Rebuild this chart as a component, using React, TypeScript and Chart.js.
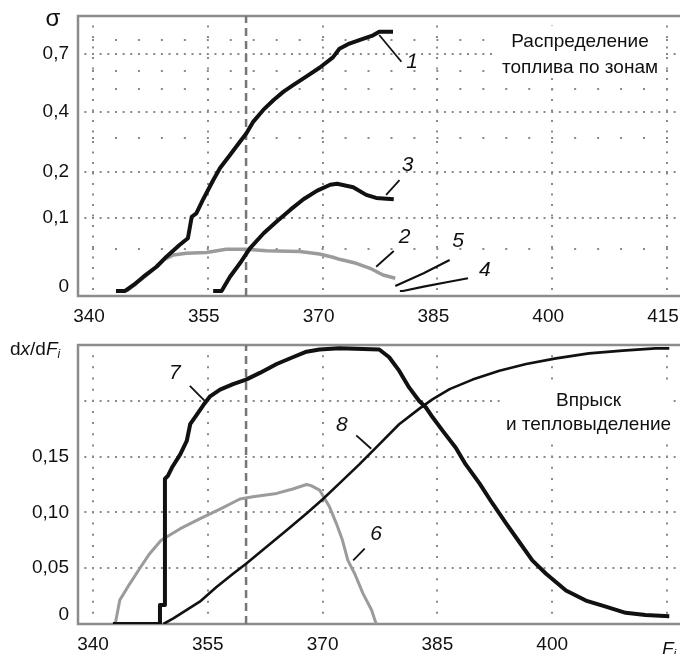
import React, { useEffect, useRef } from 'react';
import { Chart, registerables } from 'chart.js';

Chart.register(...registerables);

const FONT = '"Liberation Sans", Arial, Helvetica, sans-serif';
const INK = '#111111';
const GREY = '#9b9b9b';
const GRID = '#8a8a8a';
const FRAME = '#8c8c8c';
const MARK = '#777777';

// ---------- shared x axis ----------
const X_MIN = 338.04;
const X_MAX = 416.7;
const X_TICKS = [340, 355, 370, 385, 400, 415];
const X_LABELS_TOP = ['340', '355', '370', '385', '400', '415'];
const X_LABELS_BOTTOM = ['340', '355', '370', '385', '400', ''];
const MARK_X = 360;

// ---------- top panel: fuel distribution by zones ----------
const SIGMA_SHIFT = 0.13;
const SIGMA_MIN = -0.005;
const SIGMA_MAX = 0.99;
const SIGMA_TICKS = [0, 0.1, 0.2, 0.4, 0.7];
const SIGMA_TICK_LABELS = ['0', '0,1', '0,2', '0,4', '0,7'];
const SIGMA_MINOR = [0.05, 0.3, 0.5, 0.6, 0.8];

const C1_X = [343.0, 344.2, 345.3, 346.6, 348.3, 349.6, 351.3, 352.4, 352.9, 353.5, 354.4, 355.7, 356.6, 357.9, 359.2, 360.05, 360.95, 362.25, 363.6, 364.9, 366.2, 367.9, 369.6, 371.35, 372.2, 373.5, 374.8, 376.6, 377.4, 379.2];
const C1_S = [0, 0, 0.0063, 0.0154, 0.0272, 0.0401, 0.0564, 0.0665, 0.1025, 0.1088, 0.1367, 0.1795, 0.2104, 0.2472, 0.2884, 0.317, 0.3599, 0.4067, 0.4504, 0.4895, 0.5229, 0.5678, 0.617, 0.6799, 0.7361, 0.7727, 0.798, 0.8328, 0.86, 0.86];

const C2_X = [344.4, 345.7, 347.0, 348.3, 349.2, 350.5, 352.2, 354.8, 357.4, 360.0, 362.65, 367.0, 369.6, 371.35, 372.2, 374.4, 376.2, 377.9, 379.5];
const C2_S = [0, 0.0081, 0.0173, 0.0272, 0.0357, 0.0423, 0.0446, 0.0456, 0.0502, 0.0502, 0.048, 0.047, 0.0437, 0.0393, 0.0366, 0.0315, 0.0253, 0.0173, 0.0136];

const C3_X = [355.7, 356.8, 357.9, 359.2, 360.5, 362.3, 364.0, 365.8, 367.5, 369.3, 371.0, 371.9, 374.0, 375.7, 377.0, 379.3];
const C3_S = [0, 0, 0.0154, 0.0315, 0.0516, 0.0743, 0.0939, 0.1158, 0.1367, 0.1553, 0.1687, 0.171, 0.163, 0.146, 0.1395, 0.1367];

const C4_X = [380.1, 380.5, 383.2, 386.2, 389.0];
const C4_S = [0, 0, 0.0045, 0.0092, 0.0136];

const C5_X = [379.5, 383.2, 386.6];
const C5_S = [0.0052, 0.0193, 0.0357];

const L1_X = [377.4, 380.3];
const L1_S = [0.835, 0.653];
const L2_X = [377.0, 379.3];
const L2_S = [0.0272, 0.0478];
const L3_X = [378.3, 380.05];
const L3_S = [0.146, 0.1795];

const TOP_NUMBERS = ['1', '2', '3', '4', '5'];
const TOP_NUMBER_X = [381.7, 380.7, 381.1, 391.2, 387.7];
const TOP_NUMBER_S = [0.651, 0.0684, 0.219, 0.0232, 0.0615];
const TOP_NOTE = ['Распределение', 'топлива по зонам'];

// ---------- bottom panel: injection and heat release ----------
const D_MIN = 0;
const D_MAX = 0.25;
const D_TICKS = [0, 0.05, 0.1, 0.15, 0.2];
const D_TICK_LABELS = ['0', '0,05', '0,10', '0,15', ''];

const C6_X = [342.9, 343.5, 344.8, 346.1, 347.4, 348.9, 349.6, 351.4, 354.0, 356.6, 359.2, 360.9, 364.0, 366.1, 367.9, 368.5, 369.6, 370.9, 371.8, 372.6, 373.3, 374.2, 375.3, 376.4, 377.0];
const C6_V = [0, 0.0214, 0.036, 0.0497, 0.063, 0.075, 0.078, 0.0854, 0.0944, 0.103, 0.112, 0.114, 0.117, 0.121, 0.125, 0.124, 0.12, 0.105, 0.09, 0.075, 0.057, 0.045, 0.027, 0.0125, 0];

const C7_X = [342.6, 348.75, 348.75, 349.4, 349.4, 349.8, 350.3, 351.4, 352.25, 352.7, 353.5, 354.4, 355.3, 356.6, 358.3, 360.0, 361.8, 364.0, 366.1, 367.9, 369.6, 372.2, 377.4, 378.7, 380.0, 381.3, 382.6, 383.5, 384.4, 385.7, 387.4, 388.7, 390.5, 392.2, 394.0, 395.7, 397.4, 399.2, 401.8, 404.4, 407.0, 409.6, 412.2, 415.3];
const C7_V = [0, 0, 0.017, 0.017, 0.13, 0.133, 0.14, 0.152, 0.164, 0.179, 0.187, 0.196, 0.204, 0.21, 0.215, 0.219, 0.225, 0.233, 0.239, 0.244, 0.246, 0.247, 0.246, 0.239, 0.227, 0.212, 0.2, 0.194, 0.185, 0.173, 0.158, 0.143, 0.126, 0.108, 0.09, 0.0735, 0.057, 0.045, 0.03, 0.021, 0.0155, 0.01, 0.008, 0.007];

const C8_X = [349.2, 350.5, 352.2, 353.95, 356.1, 358.3, 360.0, 362.65, 365.3, 367.9, 370.05, 372.2, 374.8, 377.4, 380.0, 382.65, 384.4, 386.6, 389.6, 393.1, 396.6, 400.5, 404.8, 409.2, 413.5, 415.3];
const C8_V = [0, 0.005, 0.0125, 0.02, 0.033, 0.045, 0.054, 0.069, 0.084, 0.099, 0.112, 0.126, 0.143, 0.161, 0.179, 0.193, 0.2015, 0.2105, 0.219, 0.227, 0.233, 0.238, 0.2425, 0.245, 0.247, 0.247];

const L6_X = [375.5, 374.0];
const L6_V = [0.0676, 0.057];
const L7_X = [352.65, 354.6];
const L7_V = [0.2134, 0.2];
const L8_X = [374.4, 376.35];
const L8_V = [0.169, 0.157];

const BOT_NUMBERS = ['6', '7', '8'];
const BOT_NUMBER_X = [377.0, 350.7, 372.5];
const BOT_NUMBER_V = [0.0808, 0.225, 0.178];
const BOT_NOTE = ['Впрыск', 'и тепловыделение'];

// ---------- helpers ----------
const pts = (xs: number[], ys: number[], shift = 0) => xs.map((x, i) => ({ x, y: ys[i] + shift }));

const lineSet = (data: any[], color: string, width: number, dash: number[] = []) => ({
  type: 'line',
  data,
  borderColor: color,
  backgroundColor: color,
  borderWidth: width,
  borderDash: dash,
  pointRadius: 0,
  pointHoverRadius: 0,
  fill: false,
  tension: 0,
  borderCapStyle: 'butt',
  borderJoinStyle: 'round',
});

function rich(ctx: CanvasRenderingContext2D, x: number, y: number, parts: { t: string; it?: boolean; size: number; dy?: number }[]) {
  let cx = x;
  ctx.textAlign = 'left';
  ctx.textBaseline = 'alphabetic';
  for (const p of parts) {
    ctx.font = `${p.it ? 'italic ' : ''}${p.size}px ${FONT}`;
    ctx.fillText(p.t, cx, y + (p.dy || 0));
    cx += ctx.measureText(p.t).width;
  }
}

function drawFrame(ctx: CanvasRenderingContext2D, a: any) {
  ctx.strokeStyle = FRAME;
  ctx.lineWidth = 2.5;
  ctx.beginPath();
  ctx.moveTo(a.right + 2, a.top);
  ctx.lineTo(a.left, a.top);
  ctx.lineTo(a.left, a.bottom);
  ctx.lineTo(a.right + 2, a.bottom);
  ctx.stroke();
}

function xPeriod(chart: any, units: number) {
  const xs = chart.scales.x;
  return Math.abs(xs.getPixelForValue(X_TICKS[0] + units) - xs.getPixelForValue(X_TICKS[0]));
}
function xDashOffset(chart: any, units: number) {
  const xs = chart.scales.x;
  const p = xPeriod(chart, units);
  const s = xs.getPixelForValue(X_TICKS[0]) - 1 - chart.chartArea.left;
  return p - (((s % p) + p) % p);
}

function xAxis(labels: string[], height: number, labelOffset: number, vDash: (ctx: any) => number[]) {
  return {
    type: 'linear',
    bounds: 'data',
    min: X_MIN,
    max: X_MAX,
    afterBuildTicks: (s: any) => {
      s.ticks = X_TICKS.map((v) => ({ value: v }));
    },
    afterFit: (s: any) => {
      s.height = height;
      s.paddingLeft = 0;
      s.paddingRight = 0;
    },
    ticks: {
      autoSkip: false,
      maxRotation: 0,
      minRotation: 0,
      padding: 9,
      labelOffset,
      color: INK,
      font: { family: FONT, size: 19 },
      callback: (_v: any, i: number) => labels[i],
    },
    grid: { drawTicks: false, color: GRID, lineWidth: 2 },
    border: { display: false, dash: vDash, dashOffset: 1 },
  };
}

function topConfig(): any {
  const S = SIGMA_SHIFT;
  const nMajor = SIGMA_TICKS.length;
  const decor = {
    id: 'topDecor',
    beforeDatasetsDraw(chart: any) {
      const ctx = chart.ctx as CanvasRenderingContext2D;
      const a = chart.chartArea;
      ctx.save();
      ctx.fillStyle = '#ffffff';
      ctx.fillRect(a.right - 183, a.top + 10, 167, 50);
      ctx.fillStyle = INK;
      ctx.font = `19px ${FONT}`;
      ctx.textAlign = 'center';
      ctx.textBaseline = 'alphabetic';
      ctx.fillText(TOP_NOTE[0], a.right - 100, a.top + 31);
      ctx.fillText(TOP_NOTE[1], a.right - 100, a.top + 57);
      drawFrame(ctx, a);
      ctx.restore();
    },
    afterDatasetsDraw(chart: any) {
      const ctx = chart.ctx as CanvasRenderingContext2D;
      const xs = chart.scales.x;
      const ys = chart.scales.y;
      ctx.save();
      ctx.fillStyle = INK;
      ctx.font = `italic 21px ${FONT}`;
      ctx.textAlign = 'center';
      ctx.textBaseline = 'middle';
      TOP_NUMBERS.forEach((t, i) => {
        ctx.fillText(t, xs.getPixelForValue(TOP_NUMBER_X[i]), ys.getPixelForValue(TOP_NUMBER_S[i] + S));
      });
      ctx.font = `24px ${FONT}`;
      ctx.textBaseline = 'alphabetic';
      ctx.fillText('σ', 53, 26);
      ctx.restore();
    },
  };
  return {
    type: 'line',
    data: {
      datasets: [
        lineSet(pts(C1_X, C1_S, S), INK, 4),
        lineSet(pts(C3_X, C3_S, S), INK, 4),
        lineSet(pts(C4_X, C4_S, S), INK, 2.2),
        lineSet(pts(C5_X, C5_S, S), INK, 2.2),
        lineSet(pts(L1_X, L1_S, S), INK, 1.8),
        lineSet(pts(L2_X, L2_S, S), INK, 1.8),
        lineSet(pts(L3_X, L3_S, S), INK, 1.8),
        lineSet(pts(C2_X, C2_S, S), GREY, 3.5),
        lineSet([{ x: MARK_X, y: SIGMA_MIN + S }, { x: MARK_X, y: SIGMA_MAX + S }], MARK, 2.5, [8, 5]),
      ],
    },
    options: {
      responsive: false,
      animation: false,
      devicePixelRatio: 1,
      events: [],
      layout: { padding: { top: 16, left: 0, right: 0, bottom: 0 } },
      plugins: { legend: { display: false }, tooltip: { enabled: false }, title: { display: false } },
      scales: {
        x: xAxis(X_LABELS_TOP, 34, -4, () => [2, 8.5]),
        y: {
          type: 'logarithmic',
          bounds: 'data',
          min: SIGMA_MIN + S,
          max: SIGMA_MAX + S,
          afterBuildTicks: (s: any) => {
            s.ticks = [...SIGMA_TICKS, ...SIGMA_MINOR].map((v) => ({ value: v + S }));
          },
          afterFit: (s: any) => {
            s.width = 78;
            s.paddingTop = 0;
            s.paddingBottom = 0;
          },
          ticks: {
            autoSkip: false,
            padding: 9,
            color: INK,
            font: { family: FONT, size: 19, lineHeight: '8px' },
            callback: (_v: any, i: number) => {
              if (i >= nMajor) return '';
              return SIGMA_TICKS[i] === 0 ? [SIGMA_TICK_LABELS[i], ''] : SIGMA_TICK_LABELS[i];
            },
          },
          grid: {
            drawTicks: false,
            lineWidth: 2,
            color: (ctx: any) => (ctx.index < nMajor && SIGMA_TICKS[ctx.index] === 0 ? 'rgba(0,0,0,0)' : GRID),
          },
          border: {
            display: false,
            dash: (ctx: any) => {
              const p = xPeriod(ctx.chart, ctx.index < nMajor ? 1 : 3);
              return [2, p - 2];
            },
            dashOffset: (ctx: any) => xDashOffset(ctx.chart, ctx.index < nMajor ? 1 : 3),
          },
        },
      },
    },
    plugins: [decor],
  };
}

function bottomConfig(): any {
  const decor = {
    id: 'botDecor',
    beforeDatasetsDraw(chart: any) {
      const ctx = chart.ctx as CanvasRenderingContext2D;
      const a = chart.chartArea;
      ctx.save();
      ctx.fillStyle = '#ffffff';
      ctx.fillRect(a.right - 180, a.top + 38, 173, 55);
      ctx.fillStyle = INK;
      ctx.font = `19px ${FONT}`;
      ctx.textAlign = 'center';
      ctx.textBaseline = 'alphabetic';
      ctx.fillText(BOT_NOTE[0], a.right - 91.5, a.top + 61);
      ctx.fillText(BOT_NOTE[1], a.right - 91.5, a.top + 85);
      drawFrame(ctx, a);
      ctx.restore();
    },
    afterDatasetsDraw(chart: any) {
      const ctx = chart.ctx as CanvasRenderingContext2D;
      const xs = chart.scales.x;
      const ys = chart.scales.y;
      ctx.save();
      ctx.fillStyle = INK;
      ctx.font = `italic 21px ${FONT}`;
      ctx.textAlign = 'center';
      ctx.textBaseline = 'middle';
      BOT_NUMBERS.forEach((t, i) => {
        ctx.fillText(t, xs.getPixelForValue(BOT_NUMBER_X[i]), ys.getPixelForValue(BOT_NUMBER_V[i]));
      });
      rich(ctx, 10, 35, [
        { t: 'd', size: 19 },
        { t: 'x', it: true, size: 19 },
        { t: '/d', size: 19 },
        { t: 'F', it: true, size: 19 },
        { t: 'i', it: true, size: 12, dy: 3 },
      ]);
      rich(ctx, 662, 335, [
        { t: 'F', it: true, size: 19 },
        { t: 'i', it: true, size: 12, dy: 3 },
      ]);
      ctx.restore();
    },
  };
  const vPeriod = (chart: any) => {
    const ys = chart.scales.y;
    return Math.abs(ys.getPixelForValue(0.01) - ys.getPixelForValue(0));
  };
  return {
    type: 'line',
    data: {
      datasets: [
        lineSet(pts(C7_X, C7_V), INK, 4),
        lineSet(pts(C8_X, C8_V), INK, 2.6),
        lineSet(pts(L6_X, L6_V), INK, 1.8),
        lineSet(pts(L7_X, L7_V), INK, 1.8),
        lineSet(pts(L8_X, L8_V), INK, 1.8),
        lineSet(pts(C6_X, C6_V), GREY, 3),
        lineSet([{ x: MARK_X, y: D_MIN }, { x: MARK_X, y: D_MAX }], MARK, 2.5, [8, 5]),
      ],
    },
    options: {
      responsive: false,
      animation: false,
      devicePixelRatio: 1,
      events: [],
      layout: { padding: { top: 25, left: 0, right: 0, bottom: 0 } },
      plugins: { legend: { display: false }, tooltip: { enabled: false }, title: { display: false } },
      scales: {
        x: xAxis(X_LABELS_BOTTOM, 30, 0, (ctx: any) => [2, vPeriod(ctx.chart) - 2]),
        y: {
          type: 'linear',
          bounds: 'data',
          min: D_MIN,
          max: D_MAX,
          afterBuildTicks: (s: any) => {
            s.ticks = D_TICKS.map((v) => ({ value: v }));
          },
          afterFit: (s: any) => {
            s.width = 78;
            s.paddingTop = 0;
            s.paddingBottom = 0;
          },
          ticks: {
            autoSkip: false,
            padding: 9,
            color: INK,
            font: { family: FONT, size: 19, lineHeight: '18px' },
            callback: (_v: any, i: number) => (D_TICKS[i] === 0 ? [D_TICK_LABELS[i], ''] : D_TICK_LABELS[i]),
          },
          grid: {
            drawTicks: false,
            lineWidth: 2,
            color: (ctx: any) => (D_TICKS[ctx.index] === 0 ? 'rgba(0,0,0,0)' : GRID),
          },
          border: {
            display: false,
            dash: (ctx: any) => [2, xPeriod(ctx.chart, 1) - 2],
            dashOffset: (ctx: any) => xDashOffset(ctx.chart, 1),
          },
        },
      },
    },
    plugins: [decor],
  };
}

export default function App() {
  const topRef = useRef<HTMLCanvasElement>(null);
  const botRef = useRef<HTMLCanvasElement>(null);
  useEffect(() => {
    const c1 = new Chart(topRef.current as HTMLCanvasElement, topConfig());
    const c2 = new Chart(botRef.current as HTMLCanvasElement, bottomConfig());
    return () => {
      c1.destroy();
      c2.destroy();
    };
  }, []);
  return (
    <div style={{ position: 'absolute', left: 0, top: 0, width: 680, height: 654, background: '#ffffff', overflow: 'hidden' }}>
      <canvas ref={topRef} width={680} height={330} style={{ position: 'absolute', left: 0, top: 0, width: 680, height: 330 }} />
      <canvas ref={botRef} width={680} height={334} style={{ position: 'absolute', left: 0, top: 320, width: 680, height: 334 }} />
    </div>
  );
}
